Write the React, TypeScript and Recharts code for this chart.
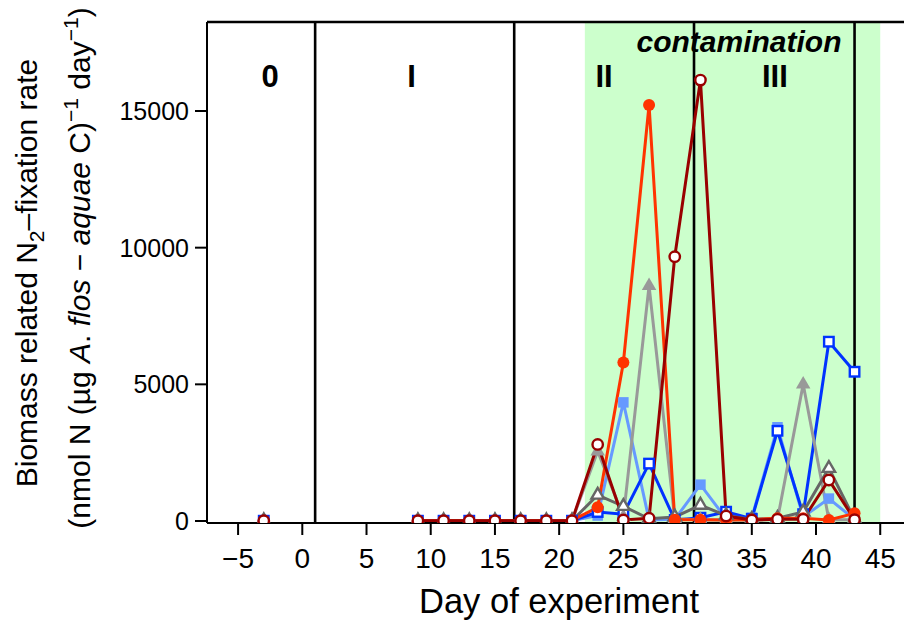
import React from 'react';
import { LineChart, Line, XAxis, YAxis, ReferenceArea, ReferenceLine, ReferenceDot } from 'recharts';

// ---- data ----
const days = [-3, 3, 9, 11, 13, 15, 17, 19, 21, 23, 25, 27, 29, 31, 33, 35, 37, 39, 41, 43];
const orangeFilled = [10, null, 10, 10, 10, 10, 10, 10, 20, 500, 5800, 15220, 50, 50, 40, 50, 100, 100, 40, 280];
const darkRedOpen = [10, null, 10, 10, 10, 10, 10, 10, 10, 2800, 40, 100, 9670, 16130, 180, 40, 60, 60, 1500, 50];
const grayFilled = [10, null, 10, 10, 10, 10, 10, 10, 10, 2550, 150, 8600, 80, 50, 40, 40, 60, 5000, 50, 50];
const darkGrayOpen = [10, null, 10, 10, 10, 10, 10, 10, 10, 950, 540, 80, 150, 580, 200, 60, 100, 330, 1930, 60];
const lightBlueFilled = [10, null, 10, 10, 10, 10, 10, 10, 10, 200, 4340, 40, 60, 1330, 80, 120, 3430, 150, 820, 60];
const blueOpen = [10, null, 10, 10, 10, 10, 10, 10, 10, 330, 250, 2100, 40, 120, 340, 80, 3300, 250, 6560, 5460];

const xTicks = [-5, 0, 5, 10, 15, 20, 25, 30, 35, 40, 45];
const yTicks = [0, 5000, 10000, 15000];
const phaseBounds = [1, 16.5, 30.5, 43];
const phaseNames = ['0', 'I', 'II', 'III'];
const phaseLabelDays = [-2.5, 8.5, 23.5, 36.8];
const contaminationStart = 22;
const contaminationEnd = 45;
const contaminationLabelDay = 34;

const X_MIN = -7.42;
const X_MAX = 46.85;
const Y_MIN = -73;
const Y_MAX = 18256;

const FONT = '"Liberation Sans", Arial, Helvetica, sans-serif';

const data = days.map((d, i) => ({
  day: d,
  orange: orangeFilled[i],
  darkRed: darkRedOpen[i],
  gray: grayFilled[i],
  darkGray: darkGrayOpen[i],
  lightBlue: lightBlueFilled[i],
  blue: blueOpen[i],
}));

type Shape = 'circle' | 'triangle' | 'square';

const makeDot = (shape: Shape, color: string, open: boolean) => (props: any) => {
  const { cx, cy, index, value } = props;
  if (cx == null || cy == null || value == null || Number.isNaN(cy)) return <g key={`n${index}`} />;
  const fill = open ? '#ffffff' : color;
  const stroke = open ? color : 'none';
  const sw = open ? 2.4 : 0;
  if (shape === 'circle') {
    return <circle key={`c${index}`} cx={cx} cy={cy} r={open ? 5.2 : 6} fill={fill} stroke={stroke} strokeWidth={sw} />;
  }
  if (shape === 'square') {
    const s = open ? 9.5 : 10.5;
    return <rect key={`s${index}`} x={cx - s / 2} y={cy - s / 2} width={s} height={s} fill={fill} stroke={stroke} strokeWidth={sw} />;
  }
  const side = open ? 12.5 : 14.5;
  const h = side * 0.866;
  const pts = `${cx},${cy - (2 * h) / 3} ${cx - side / 2},${cy + h / 3} ${cx + side / 2},${cy + h / 3}`;
  return <polygon key={`t${index}`} points={pts} fill={fill} stroke={stroke} strokeWidth={sw} strokeLinejoin="miter" />;
};

const YLabel = () => (
  <g fontFamily={FONT} fill="#000">
    <text transform="translate(37,273) rotate(-90)" textAnchor="middle" fontSize={30}>
      Biomass related N<tspan fontSize={21} dy={7}>2</tspan>
      <tspan dy={-7}>–fixation rate</tspan>
    </text>
    <text transform="translate(90,268) rotate(-90)" textAnchor="middle" fontSize={30}>
      (nmol N (µg <tspan fontStyle="italic">A</tspan>. <tspan fontStyle="italic">flos</tspan> − <tspan fontStyle="italic">aquae</tspan> C)
      <tspan fontSize={21} dy={-12}>−1</tspan>
      <tspan dy={12}> day</tspan>
      <tspan fontSize={21} dy={-12}>−1</tspan>
      <tspan dy={12}>)</tspan>
    </text>
  </g>
);

const XLabel = () => (
  <text x={559} y={613} textAnchor="middle" fontSize={34.5} fontFamily={FONT} fill="#000">
    Day of experiment
  </text>
);

const makeTextLabel = (text: string, italic: boolean) => (props: any) => {
  const vb = props.viewBox || {};
  const cx = (vb.x ?? 0) + (vb.width ?? 0) / 2;
  const cy = (vb.y ?? 0) + (vb.height ?? 0) / 2;
  return (
    <text x={cx} y={cy} dy="0.355em" textAnchor="middle" fontSize={italic ? 30 : 31} fontWeight="bold" fontStyle={italic ? 'italic' : 'normal'} fontFamily={FONT} fill="#000">
      {text}
    </text>
  );
};

const fmtX = (v: number) => (v < 0 ? `\u2212${Math.abs(v)}` : String(v));

export default function App() {
  const axisStyle = { stroke: '#000', strokeWidth: 2 };
  const xTickStyle = { fill: '#000', fontSize: 28, fontFamily: FONT };
  const yTickStyle = { fill: '#000', fontSize: 25, fontFamily: FONT };
  return (
    <div style={{ position: 'absolute', left: 0, top: 0, width: 904, height: 620, overflow: 'hidden', background: '#fff' }}>
      <LineChart width={904} height={620} data={data} margin={{ top: 22, right: 0, bottom: 0, left: 0 }}>
        <ReferenceArea
          x1={contaminationStart}
          x2={contaminationEnd}
          y1={Y_MIN}
          y2={Y_MAX}
          fill="#ccffcc"
          fillOpacity={1}
          stroke="none"
          ifOverflow="visible"
        />
        <XAxis
          dataKey="day"
          type="number"
          domain={[X_MIN, X_MAX]}
          ticks={xTicks}
          allowDataOverflow
          interval={0}
          tickSize={12}
          tickMargin={13}
          axisLine={axisStyle}
          tickLine={axisStyle}
          tick={xTickStyle}
          tickFormatter={fmtX}
          height={97}
          label={<XLabel />}
        />
        <YAxis
          type="number"
          domain={[Y_MIN, Y_MAX]}
          ticks={yTicks}
          allowDataOverflow
          interval={0}
          width={207}
          tickSize={12}
          tickMargin={6}
          axisLine={axisStyle}
          tickLine={axisStyle}
          tick={yTickStyle}
          label={<YLabel />}
        />
        <ReferenceLine y={Y_MAX} stroke="#000" strokeWidth={2.5} ifOverflow="visible" />
        {phaseBounds.map((b) => (
          <ReferenceLine key={`pb${b}`} x={b} stroke="#000" strokeWidth={2.6} />
        ))}
        {phaseNames.map((n, i) => (
          <ReferenceDot
            key={`pn${n}`}
            x={phaseLabelDays[i]}
            y={16266}
            r={1}
            fill="none"
            stroke="none"
            label={makeTextLabel(n, false)}
          />
        ))}
        <ReferenceDot x={contaminationLabelDay} y={17548} r={1} fill="none" stroke="none" label={makeTextLabel('contamination', true)} />
        <Line dataKey="lightBlue" stroke="#6699ff" strokeWidth={3} dot={makeDot('square', '#6699ff', false)} isAnimationActive={false} connectNulls={false} />
        <Line dataKey="blue" stroke="#0033ff" strokeWidth={3} dot={makeDot('square', '#0033ff', true)} isAnimationActive={false} connectNulls={false} />
        <Line dataKey="gray" stroke="#999999" strokeWidth={3} dot={makeDot('triangle', '#999999', false)} isAnimationActive={false} connectNulls={false} />
        <Line dataKey="darkGray" stroke="#666666" strokeWidth={3} dot={makeDot('triangle', '#666666', true)} isAnimationActive={false} connectNulls={false} />
        <Line dataKey="orange" stroke="#ff3300" strokeWidth={3} dot={makeDot('circle', '#ff3300', false)} isAnimationActive={false} connectNulls={false} />
        <Line dataKey="darkRed" stroke="#990000" strokeWidth={3} dot={makeDot('circle', '#990000', true)} isAnimationActive={false} connectNulls={false} />
      </LineChart>
    </div>
  );
}
